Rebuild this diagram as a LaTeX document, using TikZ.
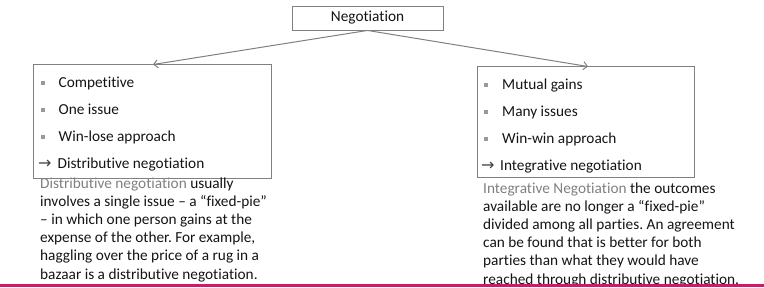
\documentclass[tikz,border=0pt]{standalone}
\usepackage{fontspec}
\setmainfont{Carlito}[Ligatures=NoCommon,RawFeature=-liga]
\newfontfamily\symfont{DejaVu Sans}
\usetikzlibrary{arrows.meta}
\frenchspacing
\definecolor{linegray}{RGB}{128,128,128}
\definecolor{hlgray}{RGB}{128,128,128}
\definecolor{txt}{RGB}{20,20,20}
\definecolor{pinkline}{RGB}{214,22,108}
\tikzset{
  box/.style={draw=linegray, line width=0.9pt, inner sep=0pt},
  conn/.style={draw=linegray, line width=1pt, -{Straight Barb[length=4pt,width=8pt]}},
  item/.style={anchor=base west, inner sep=0pt, text=txt, font=\fontsize{15.3}{18}\selectfont},
  desc/.style={anchor=base west, inner sep=0pt, text=txt, font=\fontsize{15.3}{18}\selectfont},
  arr/.style={anchor=base west, inner sep=0pt, text=txt!80, font=\symfont\fontsize{16}{18}\selectfont},
  bul/.style={fill=linegray!80, minimum size=3.6pt, inner sep=0pt},
}
\newcommand{\hl}[1]{\textcolor{hlgray}{#1}}
\begin{document}
\begin{tikzpicture}[x=1pt,y=-1pt]
\useasboundingbox (0,0) rectangle (764,287);
% top box
\node[box, minimum width=151pt, minimum height=24pt, font=\fontsize{15.3}{18}\selectfont, text=txt] (neg) at (367.5,18) {Negotiation};
% left box
\node[box, minimum width=238pt, minimum height=114pt] (lbox) at (152,121) {};
% right box
\node[box, minimum width=217pt, minimum height=111pt] (rbox) at (585.5,121.5) {};
\coordinate (ltip) at (153,64.5);
\coordinate (rtip) at (588,66.5);
\draw[conn] (neg.south) -- (ltip);
\draw[conn] (neg.south) -- (rtip);
% left items
\node[bul] (lb1) at (43,83) {};
\node[bul] (lb2) at (43,110) {};
\node[bul] (lb3) at (43,137) {};
\node[item] (l1) at (58.5,87.5) {Competitive};
\node[item] (l2) at (58.5,114.5) {One issue};
\node[item] (l3) at (58.5,141.5) {Win-lose approach};
\node[arr] (la) at (38,168.5) {→};
\node[item] (l4) at (57.5,168.5) {Distributive negotiation};
% right items
\node[bul] (rb1) at (486,85) {};
\node[bul] (rb2) at (486,112) {};
\node[bul] (rb3) at (486,139) {};
\node[item] (r1) at (502,89.5) {Mutual gains};
\node[item] (r2) at (502,116.5) {Many issues};
\node[item] (r3) at (502,143.5) {Win-win approach};
\node[arr] (ra) at (481,170.5) {→};
\node[item] (r4) at (500,170.5) {Integrative negotiation};
% left description
\node[desc] (ld1) at (40,188) {\hl{Distributive negotiation} usually};
\node[desc] (ld2) at (40,206.2) {involves a single issue – a “fixed-pie”};
\node[desc] (ld3) at (40,224.4) {– in which one person gains at the};
\node[desc] (ld4) at (40,242.6) {expense of the other. For example,};
\node[desc] (ld5) at (40,260.8) {haggling over the price of a rug in a};
\node[desc] (ld6) at (40,279) {bazaar is a distributive negotiation.};
% right description
\node[desc] (rd1) at (483,193) {\hl{Integrative Negotiation} the outcomes};
\node[desc] (rd2) at (483,211.2) {available are no longer a “fixed-pie”};
\node[desc] (rd3) at (483,229.4) {divided among all parties. An agreement};
\node[desc] (rd4) at (483,247.6) {can be found that is better for both};
\node[desc] (rd5) at (483,265.8) {parties than what they would have};
\node[desc] (rd6) at (483,284) {reached through distributive negotiation.};
% bottom line
\coordinate (pl) at (0,285.5);
\coordinate (pr) at (764,285.5);
\draw[pinkline, line width=3pt] (pl) -- (pr);
\end{tikzpicture}
\end{document}
